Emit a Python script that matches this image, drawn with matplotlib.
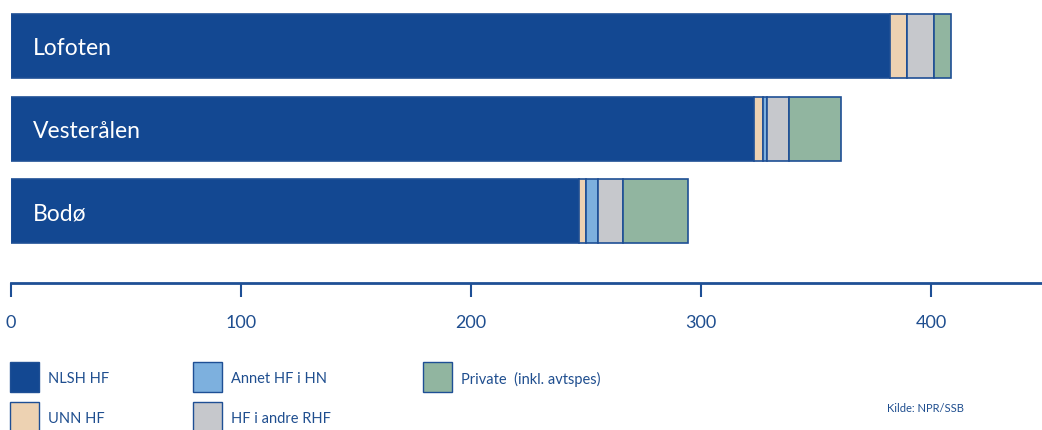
import matplotlib.pyplot as plt
from matplotlib.patches import Rectangle

plt.rcParams['font.family'] = ['Lato', 'DejaVu Sans']

regions = ['Lofoten', 'Vesterålen', 'Bodø']
series = ['NLSH HF', 'UNN HF', 'Annet HF i HN', 'HF i andre RHF', 'Private  (inkl. avtspes)']
nlsh = [382, 323, 247]
unn = [7.4, 3.9, 3.0]
annet = [0, 2.0, 5.2]
andre_rhf = [12.0, 9.3, 10.9]
private = [7.4, 22.6, 28.3]
ticks = [0, 100, 200, 300, 400]

colors = ['#134892', '#EDD2B2', '#7DB0DE', '#C6C8CC', '#91B5A0']
edge = '#1E4F95'
text_col = '#1F4E8F'

W, H = 1042, 430
fig = plt.figure(figsize=(W / 100, H / 100), dpi=100)
# axes: x=0 at px 11, 2.3 px per unit; bottom spine at y px 283
ax = fig.add_axes([11 / W, 1 - 283 / H, 1 - 11 / W, 283 / H])
ax.set_xlim(0, (W - 11) / 2.3)
ax.set_ylim(2.87, -0.56)

ypos = range(len(regions))
left = [0] * len(regions)
for vals, col in zip([nlsh, unn, annet, andre_rhf, private], colors):
    ax.barh(ypos, vals, left=left, height=0.776, color=col,
            edgecolor=edge, linewidth=1.2)
    left = [a + b for a, b in zip(left, vals)]

for y, name in zip(ypos, regions):
    ax.text(9.5, y + 0.03, name, color='white', fontsize=16.5, va='center',
            ha='left')

for s in ['top', 'right', 'left']:
    ax.spines[s].set_visible(False)
ax.spines['bottom'].set_color(edge)
ax.spines['bottom'].set_linewidth(2)
ax.set_yticks([])
ax.set_xticks(ticks)
ax.set_xticklabels([str(t) for t in ticks])
ax.tick_params(axis='x', direction='out', length=10, width=1.5, color=edge,
               labelcolor=text_col, labelsize=13, pad=13)

# legend, drawn by hand in pixel positions
legend_pos = [(10, 362), (10, 402), (193, 362), (193, 402), (423, 362)]
for (px, py), lab, col in zip(legend_pos, series, colors):
    fig.patches.append(Rectangle((px / W, 1 - (py + 30) / H), 29 / W, 30 / H,
                                 transform=fig.transFigure, facecolor=col,
                                 edgecolor=edge, linewidth=1))
    fig.text((px + 38) / W, 1 - (py + 17) / H, lab, color=text_col,
             fontsize=10.5, va='center', ha='left')

fig.text(887 / W, 1 - 408 / H, 'Kilde: NPR/SSB', color=text_col,
         fontsize=8, va='center', ha='left')

fig.savefig('out.png', dpi=100)
